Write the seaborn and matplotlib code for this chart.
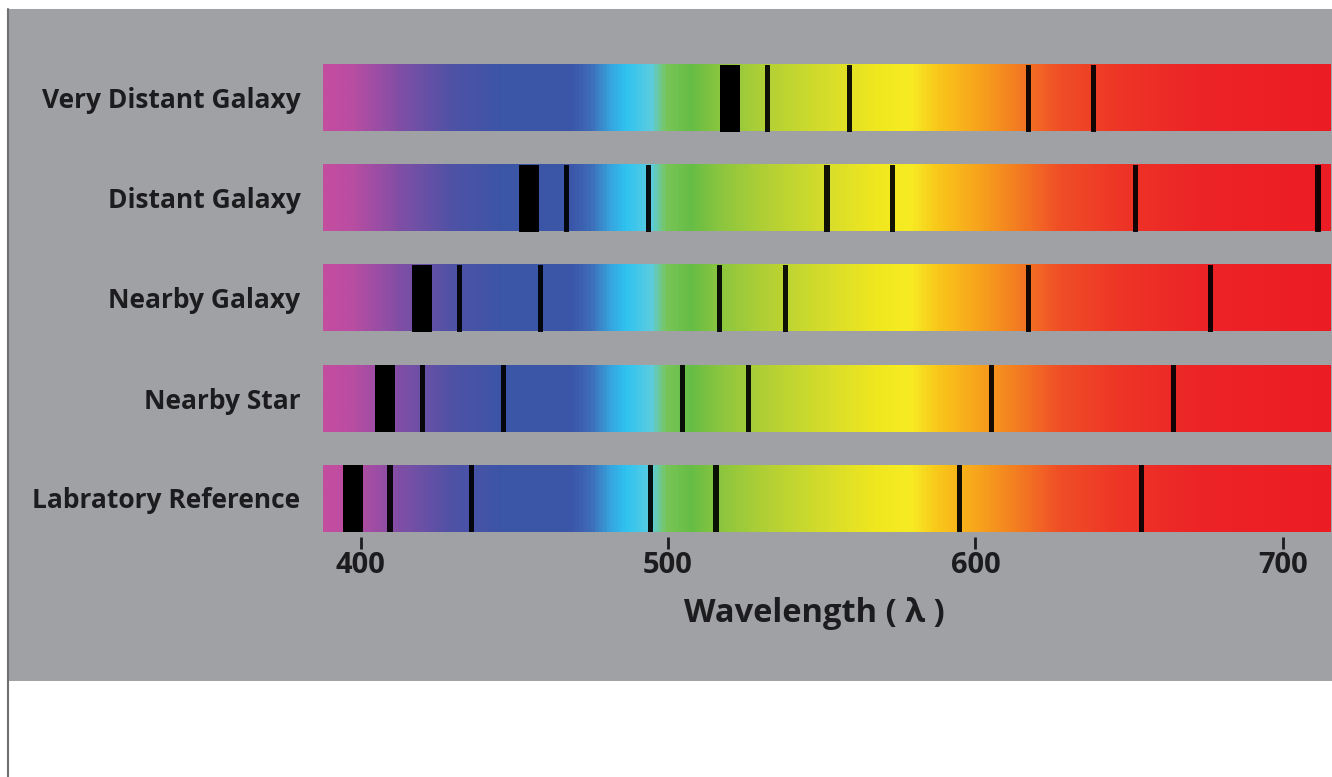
import numpy as np
import matplotlib
matplotlib.use('Agg')
import matplotlib.pyplot as plt
import seaborn as sns
from matplotlib.colors import LinearSegmentedColormap, Normalize
from matplotlib.patches import Rectangle
from matplotlib.lines import Line2D

# rows, top to bottom
rows = ['Very Distant Galaxy', 'Distant Galaxy', 'Nearby Galaxy', 'Nearby Star', 'Labratory Reference']

# absorption line positions (nm), first one in each row is the wide line
lines_very_distant = [520.3, 532.4, 559.0, 617.2, 638.4]
lines_distant = [454.9, 467.1, 493.6, 551.7, 573.1, 652.1, 711.4]
lines_nearby_galaxy = [419.9, 432.1, 458.5, 516.7, 538.1, 617.2, 676.4]
lines_nearby_star = [407.9, 420.1, 446.4, 504.8, 526.1, 605.2, 664.4]
lines_lab = [397.6, 409.6, 436.2, 494.4, 515.6, 594.9, 653.9]
all_lines = [lines_very_distant, lines_distant, lines_nearby_galaxy, lines_nearby_star, lines_lab]

# visible band shown in the strips
spec_lo, spec_hi = 387.7, 715.3
xticks = [400, 500, 600, 700]

# colour stops of the spectrum (nm -> colour)
spec_nm = [387.7, 396.6, 412.8, 429.1, 445.4, 468.1, 474.6, 481.1, 486.0, 494.2, 499.0, 507.2,
           516.9, 533.2, 552.7, 569.0, 578.7, 588.5, 601.5, 614.5, 627.5, 647.0, 673.0, 715.3]
spec_colors = ['#c44d9f', '#b94da2', '#7d4fa5', '#4f52a6', '#3c55a7', '#3b56a8', '#3e6db8', '#36a6e0',
               '#2fc3f0', '#5ccde0', '#79c558', '#66bd45', '#8cc63f', '#b5d134', '#d8de2a', '#f2e81e',
               '#f7ec23', '#f9c51a', '#f7a21c', '#f37a22', '#f04e27', '#ee3526', '#ec2427', '#ed1c24']

gray = '#a0a1a4'
ink = '#1c1c1e'

sns.set_theme(style='white', rc={'xtick.bottom': True, 'axes.axisbelow': False})
plt.rcParams['font.family'] = ['Open Sans', 'DejaVu Sans']

W, H = 1332, 777
fig = plt.figure(figsize=(W / 100, H / 100), dpi=100, facecolor='white')
fig.patches.append(Rectangle((9 / W, 1 - 681 / H), (W - 9) / W, 672 / H,
                             transform=fig.transFigure, facecolor=gray, edgecolor='none', zorder=-5))
fig.lines.append(Line2D([8 / W, 8 / W], [0, 1 - 9 / H], transform=fig.transFigure,
                        color='#707070', lw=1.5, zorder=-4))

# axes spans from 48 px down to the top of the tick marks (537 px)
ax = fig.add_axes([322.7 / W, 1 - 536.7 / H, (1330 - 322.7) / W, 488.7 / H])
ax.patch.set_alpha(0)

span = spec_hi - spec_lo
cmap = LinearSegmentedColormap.from_list(
    'spectrum', [((n - spec_lo) / span, c) for n, c in zip(spec_nm, spec_colors)])
grad = np.linspace(spec_lo, spec_hi, 1200)[None, :]
bar_h = 0.67

for i, lines in enumerate(all_lines):
    ax.imshow(grad, extent=(spec_lo, spec_hi, i + bar_h / 2, i - bar_h / 2), cmap=cmap,
              norm=Normalize(spec_lo, spec_hi), aspect='auto', interpolation='bilinear', zorder=1)
    # wide line first, then the thin ones
    ax.bar(lines[0], bar_h, width=6.5, bottom=i - bar_h / 2, color='black', linewidth=0, zorder=2)
    ax.bar(lines[1:], bar_h, width=1.7, bottom=i - bar_h / 2, color='black', alpha=0.92,
           linewidth=0, zorder=2)

ax.set_xlim(spec_lo, spec_hi)
ax.set_ylim(4.387, -0.5)
ax.set_yticks(range(len(rows)))
ax.set_yticklabels(rows, fontsize=19, fontweight='bold', color=ink)
ax.set_xticks(xticks)
ax.set_xticklabels([str(t) for t in xticks], fontsize=21, fontweight='bold', color=ink)
for s in ax.spines.values():
    s.set_visible(False)
ax.xaxis.set_ticks_position('bottom')
ax.tick_params(axis='y', length=0, pad=16)
ax.tick_params(axis='x', which='major', direction='out', length=8.4, width=2, color=ink, pad=2)

ax.set_xlabel('Wavelength ( λ )', fontsize=23.5, fontweight='bold', color=ink)
ax.xaxis.label.set_va('center')
ax.xaxis.set_label_coords(0.488, -0.158)

fig.savefig('out.png', dpi=100, facecolor='white')
